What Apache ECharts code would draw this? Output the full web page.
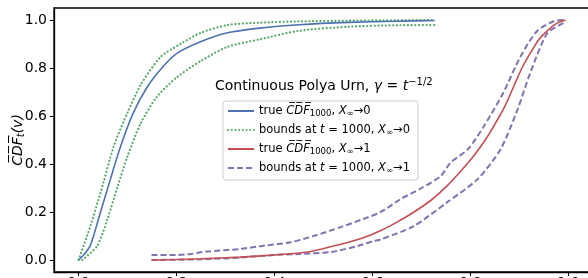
<!DOCTYPE html>
<html><head><meta charset="utf-8">
<script src="https://cdn.jsdelivr.net/npm/echarts@6/dist/echarts.min.js"></script>
<style>html,body{margin:0;padding:0;background:#fff}#c{width:588px;height:278px}</style>
</head><body><div id="c"></div>
<script>
// ---- data ----
const xTicks = [0, 0.2, 0.4, 0.6, 0.8, 1.0];
const yTicks = [0, 0.2, 0.4, 0.6, 0.8, 1.0];

const trueZeroX = [0, 0.01, 0.024, 0.045, 0.065, 0.086, 0.112, 0.14, 0.17, 0.2, 0.25, 0.3, 0.37, 0.45, 0.55, 0.65, 0.727];
const trueZeroY = [0, 0.02, 0.06, 0.2, 0.336, 0.474, 0.614, 0.72, 0.8, 0.86, 0.91, 0.945, 0.966, 0.98, 0.99, 0.995, 0.998];

const upZeroX = [0, 0.02, 0.045, 0.072, 0.1, 0.127, 0.167, 0.208, 0.249, 0.304, 0.371, 0.45, 0.55, 0.65, 0.727];
const upZeroY = [0, 0.115, 0.28, 0.474, 0.614, 0.73, 0.845, 0.9, 0.946, 0.979, 0.989, 0.994, 0.997, 0.999, 1.0];

const loZeroX = [0.008, 0.038, 0.059, 0.08, 0.1, 0.127, 0.16, 0.2, 0.25, 0.304, 0.371, 0.45, 0.55, 0.65, 0.727];
const loZeroY = [0, 0.058, 0.17, 0.307, 0.432, 0.57, 0.68, 0.76, 0.83, 0.888, 0.92, 0.955, 0.972, 0.978, 0.979];

const trueOneX = [0.149, 0.2, 0.25, 0.33, 0.4, 0.467, 0.535, 0.58, 0.616, 0.65, 0.684, 0.72, 0.752, 0.78, 0.806, 0.83, 0.847, 0.87, 0.888, 0.905, 0.922, 0.94, 0.956, 0.975, 0.994];
const trueOneY = [0, 0.002, 0.005, 0.012, 0.021, 0.033, 0.066, 0.092, 0.122, 0.158, 0.199, 0.25, 0.309, 0.37, 0.432, 0.5, 0.556, 0.64, 0.722, 0.8, 0.862, 0.92, 0.954, 0.985, 1.0];

const upOneX = [0.149, 0.2, 0.229, 0.26, 0.33, 0.38, 0.433, 0.48, 0.535, 0.58, 0.616, 0.657, 0.7, 0.739, 0.759, 0.794, 0.827, 0.867, 0.902, 0.936, 0.97, 0.994];
const upOneY = [0.021, 0.021, 0.025, 0.035, 0.046, 0.06, 0.074, 0.1, 0.137, 0.17, 0.199, 0.253, 0.3, 0.349, 0.405, 0.46, 0.556, 0.697, 0.848, 0.954, 0.995, 1.0];

const loOneX = [0.149, 0.25, 0.33, 0.4, 0.45, 0.514, 0.569, 0.602, 0.616, 0.684, 0.752, 0.814, 0.861, 0.896, 0.922, 0.957, 0.99];
const loOneY = [0, 0.003, 0.01, 0.021, 0.025, 0.033, 0.058, 0.079, 0.085, 0.141, 0.24, 0.336, 0.46, 0.627, 0.78, 0.946, 0.987];

const legendNames = ['t0', 'b0', 't1', 'b1'];
// ----------------------------------------

const pairs = (xs, ys) => xs.map((x, i) => [x, ys[i]]);
const OV = s => s.split('').map(c => c + '\u0305').join('');
const FONT = 'DejaVu Sans';

const legendText = {
  t0: 'true {i|' + OV('CDF') + '}{sub|1000}, {i|X}{sub|∞}→0',
  b0: 'bounds at {i|t} = 1000, {i|X}{sub|∞}→0',
  t1: 'true {i|' + OV('CDF') + '}{sub|1000}, {i|X}{sub|∞}→1',
  b1: 'bounds at {i|t} = 1000, {i|X}{sub|∞}→1'
};

const C = { blue: '#4C72B0', green: '#55A868', red: '#C44E52', purple: '#8172B2' };

function line(name, data, color, type, width, z, cap) {
  return {
    type: 'line', name, data, showSymbol: false, symbol: 'none',
    smooth: 0.25, z,
    lineStyle: { color, width, type, cap: cap || 'butt' },
    itemStyle: { color }
  };
}

const chart = echarts.init(document.getElementById('c'), null, { renderer: 'canvas' });
chart.setOption({
  animation: false,
  textStyle: { fontFamily: FONT },
  title: {
    text: 'Continuous Polya Urn, {i|γ} = {i|t}{sup|−1/2}',
    left: 210, top: 72,
    textStyle: {
      fontFamily: FONT, fontSize: 14, fontWeight: 'normal', color: '#000',
      rich: {
        i: { fontFamily: FONT, fontStyle: 'italic', fontSize: 14, color: '#000' },
        sup: { fontFamily: FONT, fontSize: 10, color: '#000', verticalAlign: 'top', padding: [0, 0, 8, 0] }
      }
    }
  },
  legend: {
    orient: 'vertical', left: 223, top: 101,
    data: legendNames,
    padding: [4, 8, 5, 4], itemGap: 6, itemWidth: 26, itemHeight: 13,
    borderColor: '#cccccc', borderWidth: 1, borderRadius: 3,
    backgroundColor: 'rgba(255,255,255,0.8)',
    itemStyle: { opacity: 0 },
    formatter: n => legendText[n],
    textStyle: {
      fontFamily: FONT, fontSize: 11.5, color: '#000',
      rich: {
        i: { fontFamily: FONT, fontStyle: 'italic', fontSize: 11.5, color: '#000' },
        sub: { fontFamily: FONT, fontSize: 8.5, color: '#000', padding: [5, 0, 0, 0] }
      }
    }
  },
  grid: { left: 54, right: -5, top: 8, bottom: 6, outerBoundsMode: 'none', containLabel: false, show: true, borderColor: '#000', borderWidth: 1.3, backgroundColor: 'transparent' },
  xAxis: {
    type: 'value', min: -0.05, max: 1.05,
    axisLine: { show: true, onZero: false, lineStyle: { color: '#000', width: 1.3 } },
    axisTick: { show: true, length: 4, customValues: xTicks, lineStyle: { color: '#000', width: 1 } },
    axisLabel: { customValues: xTicks, margin: 4, fontSize: 14, color: '#000', fontFamily: FONT, formatter: v => v.toFixed(1) },
    splitLine: { show: false }
  },
  yAxis: {
    type: 'value', min: -0.05, max: 1.05,
    name: '{i|' + OV('CDF') + '}{sub|t}{i|(v)}',
    nameLocation: 'middle', nameRotate: 90, nameGap: 28, nameMoveOverlap: false,
    nameTextStyle: {
      fontFamily: FONT, fontSize: 14, color: '#000',
      rich: {
        i: { fontFamily: FONT, fontStyle: 'italic', fontSize: 14, color: '#000' },
        sub: { fontFamily: FONT, fontStyle: 'italic', fontSize: 10, color: '#000', padding: [6, 0, 0, 0] }
      }
    },
    axisLine: { show: true, onZero: false, lineStyle: { color: '#000', width: 1.3 } },
    axisTick: { show: true, length: 4, customValues: yTicks, lineStyle: { color: '#000', width: 1 } },
    axisLabel: { customValues: yTicks, margin: 7, fontSize: 14, color: '#000', fontFamily: FONT, formatter: v => v.toFixed(1) },
    splitLine: { show: false }
  },
  series: [
    line('t0', pairs(trueZeroX, trueZeroY), C.blue, 'solid', 1.6, 3),
    line('b0', pairs(upZeroX, upZeroY), C.green, [0.1, 3.6], 2.2, 2, 'round'),
    line('b0', pairs(loZeroX, loZeroY), C.green, [0.1, 3.6], 2.2, 2, 'round'),
    line('t1', pairs(trueOneX, trueOneY), C.red, 'solid', 1.6, 3),
    line('b1', pairs(upOneX, upOneY), C.purple, [6, 3], 2, 2),
    line('b1', pairs(loOneX, loOneY), C.purple, [6, 3], 2, 2)
  ]
});
</script>
</body></html>
